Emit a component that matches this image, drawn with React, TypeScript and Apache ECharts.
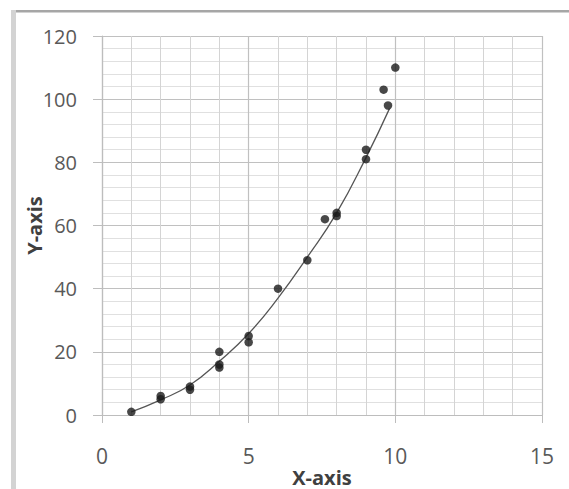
import React, { useEffect, useRef } from "react";
import * as echarts from "echarts";

const scatterX = [1, 2, 2, 3, 3, 4, 4, 4, 5, 5, 6, 7, 7.6, 8, 8, 9, 9, 9.6, 9.75, 10];
const scatterY = [1, 6, 5, 9, 8, 20, 16, 15, 25, 23, 40, 49, 62, 64, 63, 84, 81, 103, 98, 110];

const trendX = [1, 2, 3, 4, 5, 6, 7, 8, 9, 9.8];
const trendY = [1, 4.8, 9.5, 17, 25.8, 37, 50, 64, 81.5, 97];

const xTicks = [0, 5, 10, 15];
const yTicks = [0, 20, 40, 60, 80, 100, 120];

const xTitle = "X-axis";
const yTitle = "Y-axis";

export default function App() {
  const ref = useRef<HTMLDivElement>(null);

  useEffect(() => {
    if (!ref.current) return;
    const chart = echarts.init(ref.current, null, { renderer: "svg" });
    const font = "'Open Sans', 'DejaVu Sans', sans-serif";
    chart.setOption({
      animation: false,
      backgroundColor: "#ffffff",
      grid: {
        left: 102,
        right: 27,
        top: 36,
        bottom: 74,
        containLabel: false,
        outerBoundsMode: "none",
      },
      graphic: [
        {
          type: "rect",
          shape: { x: 11, y: 10, width: 560, height: 2.5 },
          style: { fill: "#a6a6a6" },
          silent: true,
        },
        {
          type: "rect",
          shape: { x: 11, y: 10, width: 5, height: 480 },
          style: { fill: "#d3d3d3" },
          silent: true,
        },
      ],
      xAxis: {
        type: "value",
        min: xTicks[0],
        max: xTicks[xTicks.length - 1],
        interval: xTicks[1] - xTicks[0],
        name: xTitle,
        nameLocation: "middle",
        nameGap: 52,
        nameMoveOverlap: false,
        nameTextStyle: { fontFamily: font, fontSize: 20, fontWeight: "bold", color: "#404040", lineHeight: 20 },
        axisLine: { show: true, lineStyle: { color: "#bdbdbd", width: 1.2 } },
        axisTick: { show: true, length: 8, lineStyle: { color: "#bdbdbd" } },
        axisLabel: { fontFamily: font, fontSize: 21, color: "#595959", margin: 30 },
        splitLine: { show: true, lineStyle: { color: "#c0c0c0", width: 1.2 } },
        minorTick: { show: false, splitNumber: 5 },
        minorSplitLine: { show: true, lineStyle: { color: "#d4d4d4", width: 1 } },
      },
      yAxis: {
        type: "value",
        min: yTicks[0],
        max: yTicks[yTicks.length - 1],
        interval: yTicks[1] - yTicks[0],
        name: yTitle,
        nameLocation: "middle",
        nameGap: 58,
        nameRotate: 90,
        nameMoveOverlap: false,
        nameTextStyle: { fontFamily: font, fontSize: 20, fontWeight: "bold", color: "#404040" },
        axisLine: { show: true, lineStyle: { color: "#bdbdbd", width: 1.2 } },
        axisTick: { show: true, length: 9, lineStyle: { color: "#bdbdbd" } },
        axisLabel: { fontFamily: font, fontSize: 20, color: "#595959", margin: 25 },
        splitLine: { show: true, lineStyle: { color: "#c0c0c0", width: 1.2 } },
        minorTick: { show: false, splitNumber: 5 },
        minorSplitLine: { show: true, lineStyle: { color: "#e0e0e0", width: 1 } },
      },
      series: [
        {
          type: "line",
          data: trendX.map((x, i) => [x, trendY[i]]),
          smooth: true,
          showSymbol: false,
          symbol: "none",
          lineStyle: { color: "#555555", width: 1.3 },
          z: 2,
        },
        {
          type: "scatter",
          data: scatterX.map((x, i) => [x, scatterY[i]]),
          symbol: "circle",
          symbolSize: 8.5,
          itemStyle: { color: "#1a1a1a" },
          z: 3,
        },
      ],
    });
    return () => chart.dispose();
  }, []);

  return (
    <div
      ref={ref}
      style={{ position: "fixed", left: 0, top: 0, width: 569, height: 489, background: "#fff" }}
    />
  );
}
